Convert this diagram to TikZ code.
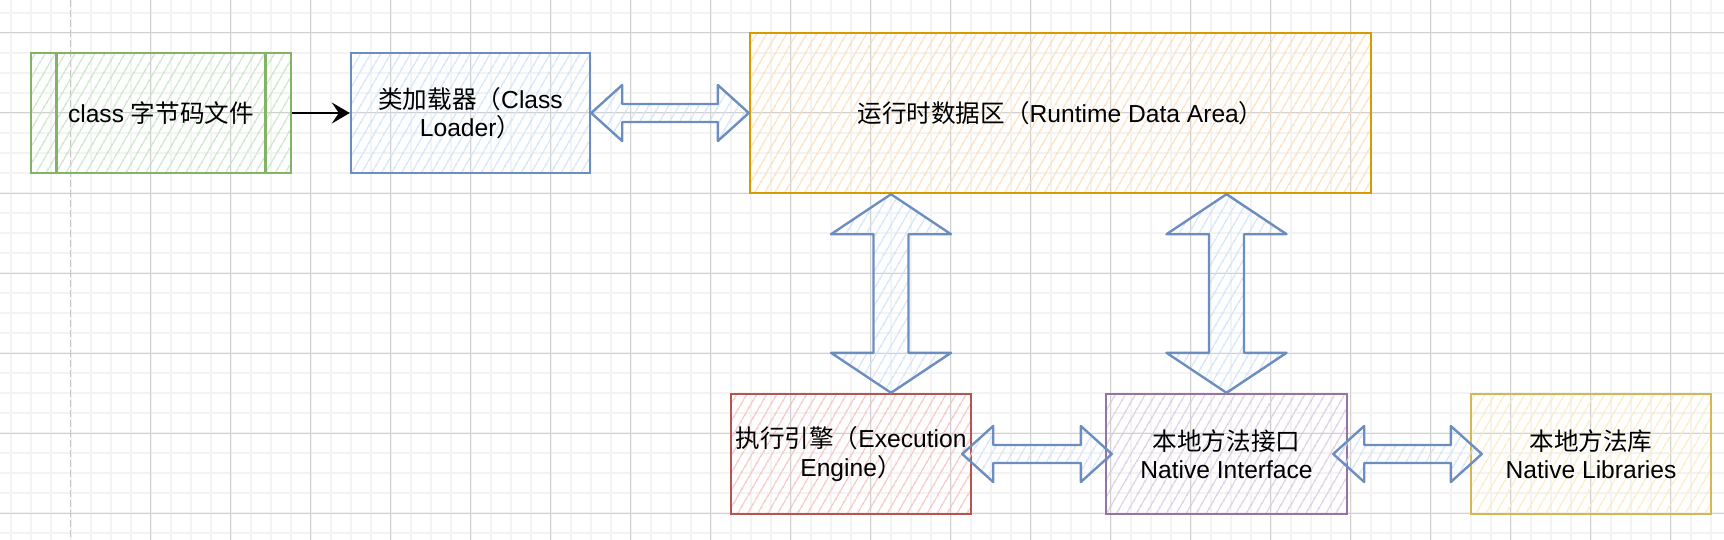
\documentclass[tikz,border=0pt]{standalone}
\usepackage{fontspec}
\setmainfont{Liberation Sans}
\newfontfamily\cjkfont{Noto Sans CJK SC}
\newcommand\zh[1]{{\cjkfont #1}}
\usetikzlibrary{calc,arrows.meta,patterns.meta}

\definecolor{gridminor}{HTML}{F3F3F3}
\definecolor{gridmajor}{HTML}{D0D0D0}
\definecolor{pagebreak}{HTML}{C4C4C4}
\definecolor{greenline}{HTML}{82B366}
\definecolor{greenfill}{HTML}{C9E2C6}
\definecolor{blueline}{HTML}{6C8EBF}
\definecolor{bluefill}{HTML}{CFE1FA}
\definecolor{orangeline}{HTML}{D79B00}
\definecolor{orangefill}{HTML}{FCDDB8}
\definecolor{redline}{HTML}{B85450}
\definecolor{redfill}{HTML}{F4C2C0}
\definecolor{purpleline}{HTML}{9673A6}
\definecolor{purplefill}{HTML}{D9CAE1}
\definecolor{yellowline}{HTML}{D6B656}
\definecolor{yellowfill}{HTML}{FAEBBE}

\tikzset{
  hatched/.style 2 args={draw=#1, line width=1.2pt,
    pattern={Lines[angle=60,distance=4pt,line width=0.6pt]}, pattern color=#2},
  box/.style={inner sep=0pt, minimum height=60pt, align=center,
    font=\fontsize{12.3}{14.2}\selectfont},
  flex/.style={hatched={blueline}{bluefill}, line join=round},
}

% double block arrows between two anchors
\newcommand\flexh[2]{%
  \draw [flex] let \p1=(#1), \p2=(#2) in
    (\x1,\y1) -- (\x1+15.5pt,\y1+14pt) -- (\x1+15.5pt,\y1+4.5pt)
    -- (\x2-15.5pt,\y1+4.5pt) -- (\x2-15.5pt,\y1+14pt) -- (\x2,\y1)
    -- (\x2-15.5pt,\y1-14pt) -- (\x2-15.5pt,\y1-4.5pt)
    -- (\x1+15.5pt,\y1-4.5pt) -- (\x1+15.5pt,\y1-14pt) -- cycle;}
\newcommand\flexv[2]{%
  \draw [flex] let \p1=(#1), \p2=(#2) in
    (\x1,\y1) -- (\x1+30pt,\y1-20pt) -- (\x1+8.75pt,\y1-20pt)
    -- (\x1+8.75pt,\y2+20pt) -- (\x1+30pt,\y2+20pt) -- (\x1,\y2)
    -- (\x1-30pt,\y2+20pt) -- (\x1-8.75pt,\y2+20pt)
    -- (\x1-8.75pt,\y1-20pt) -- (\x1-30pt,\y1-20pt) -- cycle;}

\begin{document}
\begin{tikzpicture}[x=0.5pt, y=-0.5pt]
  \useasboundingbox (0,0) rectangle (1724,540);

  % background grid
  \foreach \gx in {10.5,30.5,...,1724}
    \draw [gridminor, line width=1pt] (\gx,0) -- (\gx,540);
  \foreach \gy in {13,33,...,540}
    \draw [gridminor, line width=1pt] (0,\gy) -- (1724,\gy);
  \foreach \gx in {150.5,230.5,...,1724}
    \draw [gridmajor, line width=0.5pt] (\gx,0) -- (\gx,540);
  \foreach \gy in {33,113,...,540}
    \draw [gridmajor, line width=0.5pt] (0,\gy) -- (1724,\gy);
  \draw [pagebreak, line width=0.75pt, dash pattern=on 3.5pt off 1.5pt] (70.5,0) -- (70.5,540);

  % boxes
  \node [box, hatched={greenline}{greenfill}, minimum width=130pt] (cls) at (161,113)
    {class \zh{字节码文件}};
  \draw [greenline, line width=1.2pt]
    ([xshift=13pt]cls.north west) -- ([xshift=13pt]cls.south west)
    ([xshift=-13pt]cls.north east) -- ([xshift=-13pt]cls.south east);
  \node [box, hatched={blueline}{bluefill}, minimum width=119.5pt] (ldr) at (470.5,113)
    {\zh{类加载器（}Class\\Loader\zh{）}};
  \node [box, hatched={orangeline}{orangefill}, minimum width=310.5pt, minimum height=80pt]
    (rda) at (1060.5,113) {\zh{运行时数据区（}Runtime Data Area\zh{）}};
  \node [box, hatched={redline}{redfill}, minimum width=120pt] (eng) at (851,454)
    {\zh{执行引擎（}Execution\\Engine\zh{）}};
  \node [box, hatched={purpleline}{purplefill}, minimum width=120.5pt] (nif) at (1226.5,454)
    {\zh{本地方法接口}\\Native Interface};
  \node [box, hatched={yellowline}{yellowfill}, minimum width=120pt] (lib) at (1591,454)
    {\zh{本地方法库}\\Native Libraries};

  % connectors
  \draw [-{Stealth[length=9pt,width=10.5pt,inset=3.5pt]}, line width=1pt] (cls) -- (ldr);
  \flexh{ldr.east}{rda.west}
  \coordinate (ve) at ([xshift=20pt]eng.north);
  \flexv{rda.south -| ve}{ve}
  \flexv{rda.south -| nif.north}{nif.north}
  \flexh{[xshift=-5pt]eng.east}{[xshift=3.5pt]nif.west}
  \flexh{[xshift=-7.5pt]nif.east}{[xshift=6pt]lib.west}
\end{tikzpicture}
\end{document}
